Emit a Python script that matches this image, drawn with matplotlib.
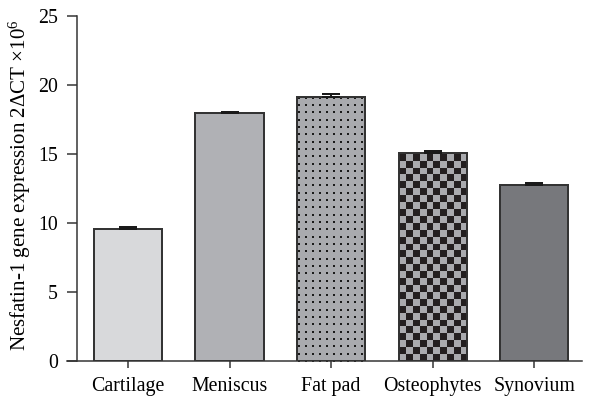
import matplotlib
matplotlib.use("Agg")
import matplotlib.pyplot as plt
import numpy as np
from matplotlib.colors import ListedColormap

categories = ["Cartilage", "Meniscus", "Fat pad", "Osteophytes", "Synovium"]
values = [9.57, 17.95, 19.12, 15.05, 12.78]
errors = [0.14, 0.08, 0.2, 0.15, 0.12]
colors = ["#d8d9db", "#b0b1b5", "#a9aaae", "#a9aaae", "#77787c"]
patterns = [None, None, "dots", "checker", None]

DPI = 84
plt.rcParams["font.family"] = ["Liberation Serif", "DejaVu Serif"]
plt.rcParams["mathtext.fontset"] = "custom"
plt.rcParams["mathtext.rm"] = "Liberation Serif"
plt.rcParams["mathtext.it"] = "Liberation Serif:italic"

fig = plt.figure(figsize=(593 / DPI, 404 / DPI), dpi=DPI)
ax = fig.add_axes([67 / 593, 1 - 361 / 404, (582 - 67) / 593, (361 - 16) / 404])

x = np.arange(len(categories))
width = 0.67
bars = ax.bar(x, values, width=width, color=colors, edgecolor="none", zorder=2)

for bar, kind in zip(bars, patterns):
    if kind is None:
        continue
    x0, w, hgt = bar.get_x(), bar.get_width(), bar.get_height()
    if kind == "checker":
        nx, step = 10, 0.5
        ny = int(np.ceil(hgt / step))
        pat = (np.add.outer(np.arange(ny), np.arange(nx)) % 2).astype(float)
        im = ax.imshow(
            pat, cmap=ListedColormap([bar.get_facecolor(), "#231f20"]),
            extent=(x0, x0 + w, 0, ny * step), origin="lower",
            interpolation="nearest", aspect="auto", zorder=2.5,
        )
        im.set_clip_path(bar)
    else:
        # square grid of small dots
        cols = x0 + w * (0.025 + np.arange(10) * 0.104)
        rows = np.arange(0, hgt, 0.53)
        gx, gy = np.meshgrid(cols, rows)
        dots = ax.scatter(gx.ravel(), gy.ravel(), marker="s", s=2.8,
                          color="#1a1a1a", linewidths=0, zorder=2.5)
        dots.set_clip_path(bar)

# outlines on top
ax.bar(x, values, width=width, facecolor="none", edgecolor="#333333",
       linewidth=1.7, zorder=3)

ax.errorbar(
    x, values, yerr=[np.zeros(len(errors)), errors], fmt="none",
    ecolor="#1a1a1a", elinewidth=1.7, capsize=7.7, capthick=1.7, zorder=4,
)

ax.set_xlim(-0.6, 4.47)
ax.set_ylim(0, 25)
ax.set_yticks([0, 5, 10, 15, 20, 25])
ax.set_xticks(x)
ax.set_xticklabels(categories)

for s in ["top", "right"]:
    ax.spines[s].set_visible(False)
ax.spines["left"].set_position(("data", -0.5))
for s in ["left", "bottom"]:
    ax.spines[s].set_color("#333333")
    ax.spines[s].set_linewidth(1.3)

ax.tick_params(axis="y", length=8.5, width=1.3, color="#333333",
               labelsize=17, pad=8)
ax.tick_params(axis="x", length=6, width=1.3, color="#333333",
               labelsize=17, pad=8)

ax.set_ylabel("Nesfatin-1 gene expression 2\u0394CT \u00d710$^{6}$",
              fontsize=18)
ax.yaxis.set_label_coords(-0.091, 0.51)
ax.yaxis.label.set_verticalalignment("center")

fig.savefig("out.png", dpi=DPI)
